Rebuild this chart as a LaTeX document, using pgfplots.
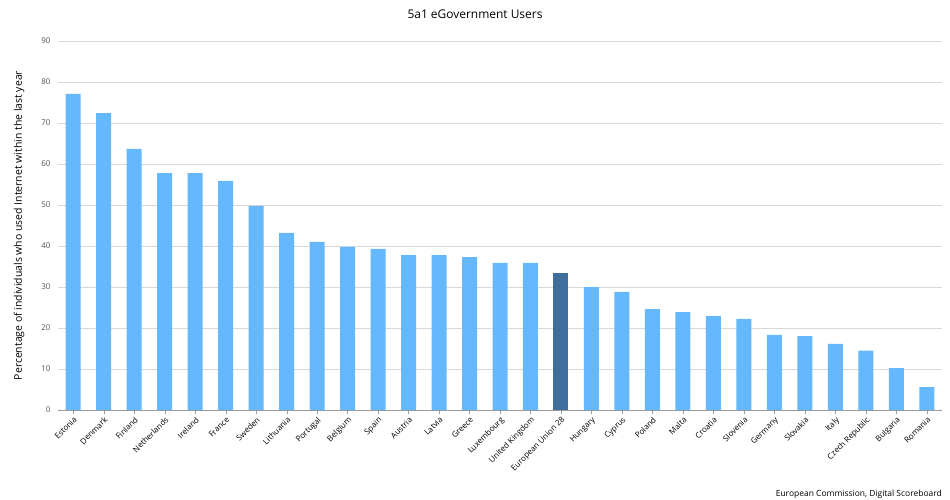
\documentclass[border=0pt]{standalone}
\usepackage{pgfplots}
\pgfplotsset{compat=1.18}
\usepackage{fontspec}
\setmainfont{Open Sans}
\definecolor{barblue}{HTML}{66B8FC}
\definecolor{eublue}{HTML}{3E6F9C}
\definecolor{gridc}{HTML}{D8D8D8}
\definecolor{txt}{HTML}{555555}
\begin{document}
\begin{tikzpicture}
\useasboundingbox (-58bp,-90bp) rectangle (892bp,410bp);
\begin{axis}[
  at={(0,0)}, anchor=south west,
  scale only axis, width=884bp, height=369bp,
  xmin=-0.5, xmax=28.5, ymin=0, ymax=90,
  ytick={0,10,...,90},
  ymajorgrids, grid style={gridc},
  axis line style={draw=none},
  axis x line*=bottom,
  x axis line style={draw=gray!80},
  ytick style={draw=none},
  xtick={0,...,28},
  xtick style={draw=gray!80},
  tick align=outside, major tick length=4bp,
  xticklabels={Estonia,Denmark,Finland,Netherlands,Ireland,France,Sweden,Lithuania,Portugal,Belgium,Spain,Austria,Latvia,Greece,Luxembourg,United Kingdom,European Union 28,Hungary,Cyprus,Poland,Malta,Croatia,Slovenia,Germany,Slovakia,Italy,Czech Republic,Bulgaria,Romania},
  xticklabel style={rotate=45, anchor=north east, font=\fontsize{8}{9}\selectfont, text=black, inner sep=1.5pt},
  yticklabel style={font=\fontsize{8}{9}\selectfont, text=txt},
  /pgf/number format/assume math mode=true,
  ylabel={Percentage of individuals who used Internet within the last year},
  ylabel style={font=\fontsize{10.5}{11}\selectfont, text=black, at={(-30bp,184.5bp)}, anchor=south},
  ybar, bar width=15bp, bar shift=0pt,
  clip=false,
]
\addplot[fill=barblue, draw=none] coordinates {
(0,77.1)(1,72.4)(2,63.7)(3,57.8)(4,57.8)(5,55.9)(6,49.8)(7,43.2)(8,41.0)(9,39.8)(10,39.3)(11,37.8)(12,37.8)(13,37.3)(14,35.9)(15,35.9)
(17,30.0)(18,28.8)(19,24.6)(20,23.9)(21,22.9)(22,22.2)(23,18.3)(24,18.0)(25,16.1)(26,14.5)(27,10.2)(28,5.6)};
\addplot[fill=eublue, draw=none] coordinates {(16,33.4)};
\end{axis}
\node[font=\fontsize{12}{13}\selectfont, anchor=center] at (417bp,396bp) {5a1 eGovernment Users};
\node[font=\fontsize{8.5}{9}\selectfont, anchor=base east, inner sep=0pt] at (884bp,-86bp) {European Commission, Digital Scoreboard};
\end{tikzpicture}
\end{document}
